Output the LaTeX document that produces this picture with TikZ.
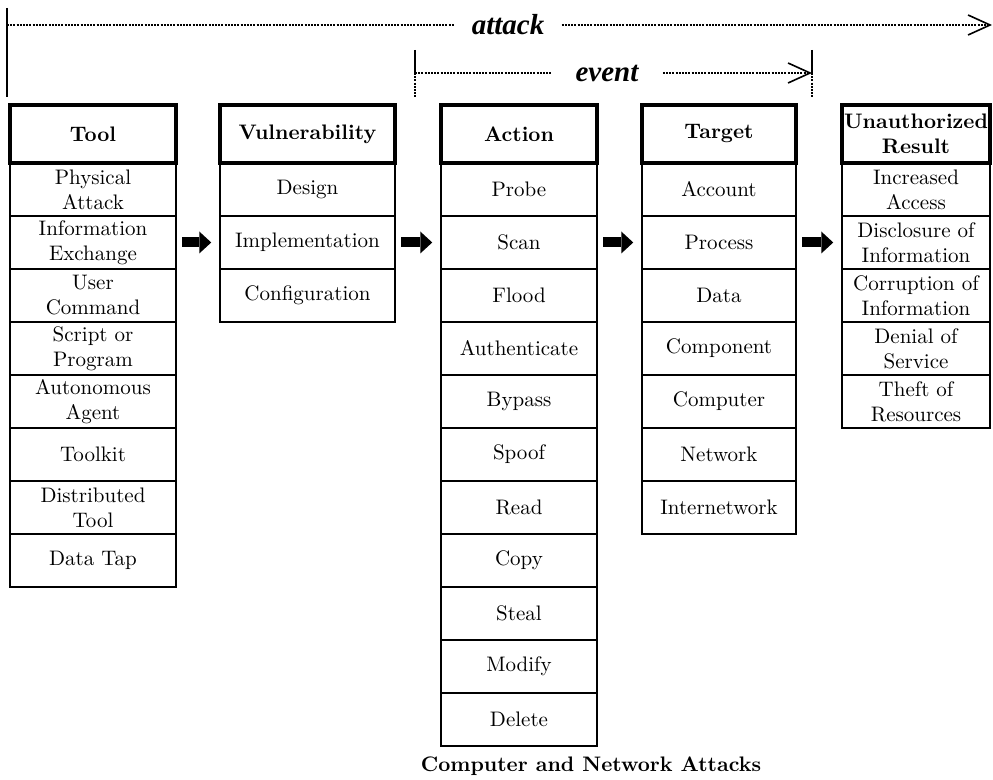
\documentclass[tikz,border=0pt]{standalone}
\usepackage{fontspec}
\usepackage{tikz}
\usetikzlibrary{arrows.meta}
\newfontfamily\labfont{Liberation Serif}

\begin{document}
\begin{tikzpicture}[x=0.5pt, y=-0.5pt,
    cell/.style={draw, line width=0.75pt, minimum height=26.5pt, inner sep=0pt,
      align=center, font=\fontsize{10.5}{12.5}\selectfont},
    head/.style={draw, line width=1.8pt, minimum height=29pt, inner sep=0pt,
      align=center, font=\fontsize{10.5}{12.5}\selectfont\bfseries},
    tw/.style={minimum width=83pt},
    vw/.style={minimum width=87.5pt},
    aw/.style={minimum width=78pt},
    gw/.style={minimum width=77pt},
    rw/.style={minimum width=74pt},
    lab/.style={font=\labfont\fontsize{14.5}{17}\selectfont\bfseries\itshape,
      inner ysep=3pt, inner xsep=8.5pt},
    dots/.style={line width=1pt, dash pattern=on 1pt off 0.6pt},
    barb/.style={-{Straight Barb[length=11pt,width=10pt,line width=0.8pt]}},
    fat/.style={line width=5pt, -{Triangle[length=6pt,width=11pt,line width=0pt]},
      shorten <=2.8pt, shorten >=4pt}]
    \useasboundingbox (0,0) rectangle (993,780);
    % attack and event spans
    \node[lab] (atk) at (508,25) {attack};
    \coordinate (atkA) at (7,8);
    \coordinate (atkB) at (7,97);
    \coordinate (atkL) at (7,25);
    \coordinate (atkR) at (992,25);
    \draw [line width=1pt] (atkA) to (atkB);
    \draw [dots] (atkL) to (atk.west);
    \draw [dots, barb] (atk.east) to (atkR);
    \node[lab, inner xsep=12pt] (evt) at (607,73) {event};
    \coordinate (evA) at (415,50);
    \coordinate (evL) at (415,73);
    \coordinate (evB) at (415,98);
    \coordinate (evC) at (812,50);
    \coordinate (evR) at (812,73);
    \coordinate (evD) at (812,98);
    \draw [line width=1pt] (evA) to (evL);
    \draw [dots] (evL) to (evB);
    \draw [dots] (evL) to (evt.west);
    \draw [dots, barb] (evt.east) to (evR);
    \draw [line width=1pt] (evC) to (evR);
    \draw [dots] (evR) to (evD);
    % Tool
    \node[head,tw] (t0) at (93,134) {Tool};
    \node[cell,tw] (t1) at (93,189.5) {Physical\\Attack};
    \node[cell,tw] (t2) at (93,242.5) {Information\\Exchange};
    \node[cell,tw] (t3) at (93,295.5) {User\\Command};
    \node[cell,tw] (t4) at (93,348.5) {Script or\\Program};
    \node[cell,tw] (t5) at (93,401.5) {Autonomous\\Agent};
    \node[cell,tw] (t6) at (93,454.5) {Toolkit};
    \node[cell,tw] (t7) at (93,507.5) {Distributed\\Tool};
    \node[cell,tw] (t8) at (93,560.5) {Data Tap};
    % Vulnerability
    \node[head,vw] (v0) at (307.5,134) {Vulnerability};
    \node[cell,vw] (v1) at (307.5,189.5) {Design};
    \node[cell,vw] (v2) at (307.5,242.5) {Implementation};
    \node[cell,vw] (v3) at (307.5,295.5) {Configuration};
    % Action
    \node[head,aw] (a0) at (519,134) {Action};
    \node[cell,aw] (a1) at (519,189.5) {Probe};
    \node[cell,aw] (a2) at (519,242.5) {Scan};
    \node[cell,aw] (a3) at (519,295.5) {Flood};
    \node[cell,aw] (a4) at (519,348.5) {Authenticate};
    \node[cell,aw] (a5) at (519,401.5) {Bypass};
    \node[cell,aw] (a6) at (519,454.5) {Spoof};
    \node[cell,aw] (a7) at (519,507.5) {Read};
    \node[cell,aw] (a8) at (519,560.5) {Copy};
    \node[cell,aw] (a9) at (519,613.5) {Steal};
    \node[cell,aw] (a10) at (519,666.5) {Modify};
    \node[cell,aw] (a11) at (519,719.5) {Delete};
    % Target
    \node[head,gw] (g0) at (719,134) {Target};
    \node[cell,gw] (g1) at (719,189.5) {Account};
    \node[cell,gw] (g2) at (719,242.5) {Process};
    \node[cell,gw] (g3) at (719,295.5) {Data};
    \node[cell,gw] (g4) at (719,348.5) {Component};
    \node[cell,gw] (g5) at (719,401.5) {Computer};
    \node[cell,gw] (g6) at (719,454.5) {Network};
    \node[cell,gw] (g7) at (719,507.5) {Internetwork};
    % Unauthorized Result
    \node[head,rw] (r0) at (916,134) {Unauthorized\\Result};
    \node[cell,rw] (r1) at (916,189.5) {Increased\\Access};
    \node[cell,rw] (r2) at (916,242.5) {Disclosure of\\Information};
    \node[cell,rw] (r3) at (916,295.5) {Corruption of\\Information};
    \node[cell,rw] (r4) at (916,348.5) {Denial of\\Service};
    \node[cell,rw] (r5) at (916,401.5) {Theft of\\Resources};
    % block arrows
    \draw [fat] (t2) to (v2);
    \draw [fat] (v2) to (a2);
    \draw [fat] (a2) to (g2);
    \draw [fat] (g2) to (r2);
    \node[font=\fontsize{10.5}{12.5}\selectfont\bfseries] (cap) at (591,766) {Computer and Network Attacks};
  \end{tikzpicture}
\end{document}
